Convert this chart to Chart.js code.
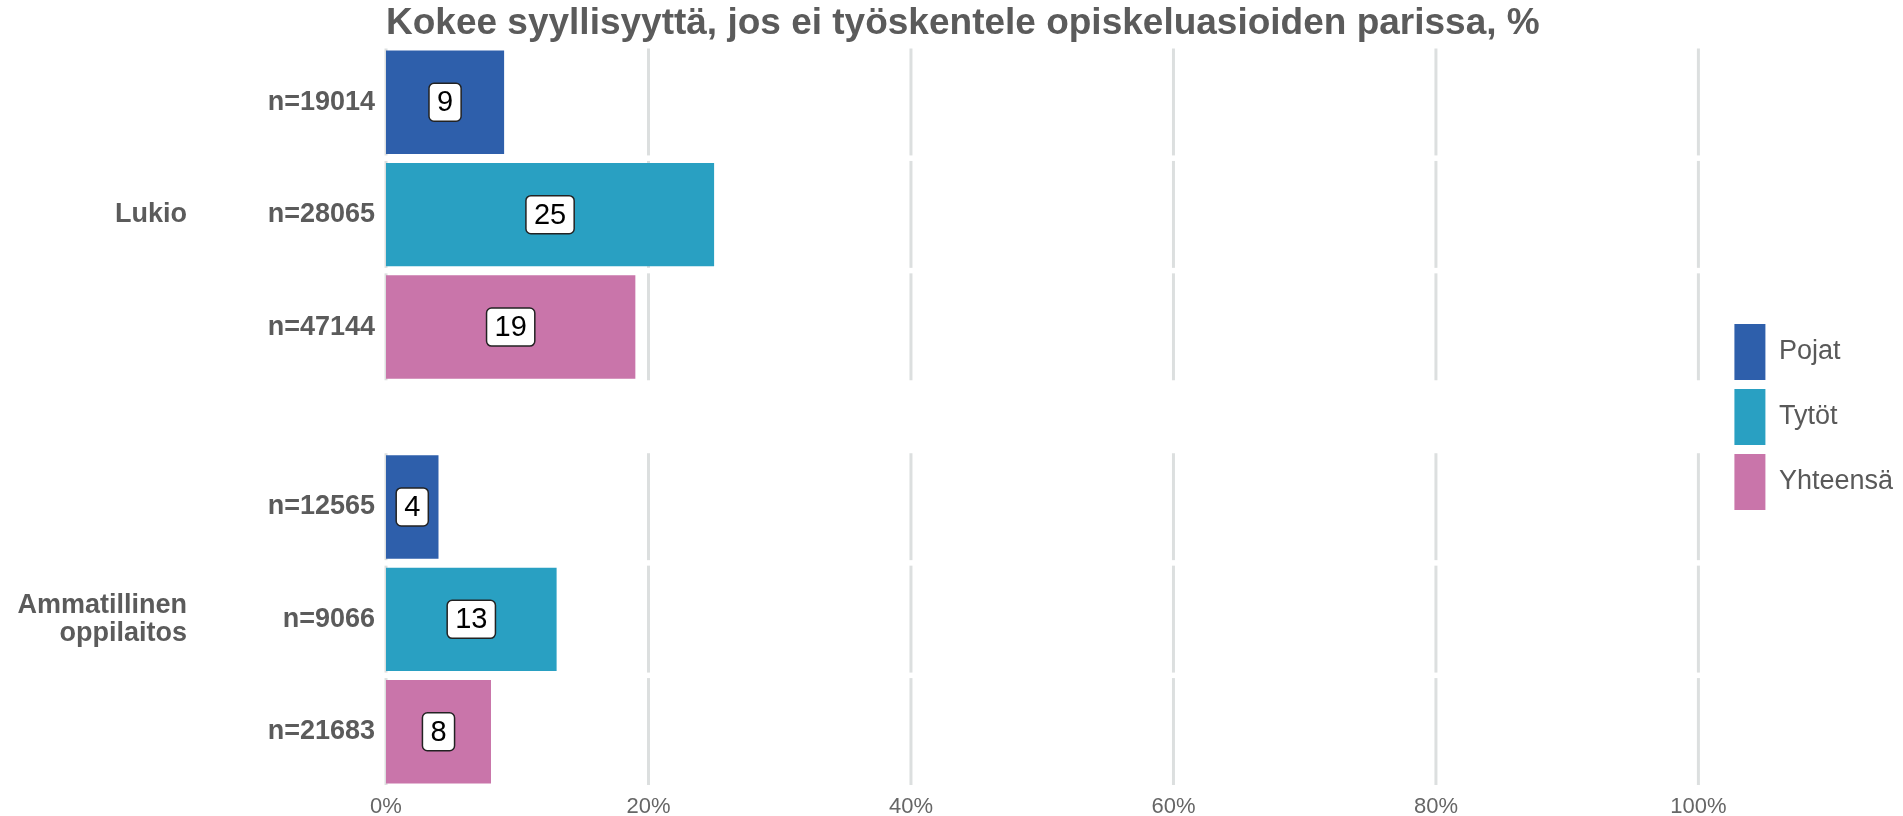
<!DOCTYPE html>
<html>
<head>
<meta charset="utf-8">
<script src="https://cdn.jsdelivr.net/npm/chart.js@4.4.1/dist/chart.umd.min.js"></script>
<style>
  html,body{margin:0;padding:0;background:#fff}
  #wrap{position:relative;width:1903px;height:816px}
</style>
</head>
<body>
<div id="wrap"><canvas id="chart"></canvas></div>
<script>
// data
const TITLE = 'Kokee syyllisyyttä, jos ei työskentele opiskeluasioiden parissa, %';
const groups = ['Lukio', ['Ammatillinen', 'oppilaitos']];
const seriesNames = ['Pojat', 'Tytöt', 'Yhteensä'];
const pojat = [9, 4];
const tytot = [25, 13];
const yhteensa = [19, 8];
const nPojat = [19014, 12565];
const nTytot = [28065, 9066];
const nYhteensa = [47144, 21683];
const xTickStep = 20;

const colors = ['#2e5fab', '#29a0c2', '#c975aa'];
const FONT = '"Liberation Sans", Arial, sans-serif';
const GREY = '#5b5b5b';
const GROUP_GAP = 0.6; // extra space between the two facet groups, in rows

const seriesValues = [pojat, tytot, yhteensa];
const seriesN = [nPojat, nTytot, nYhteensa];

function rowPos(g, s){ return g * (seriesNames.length + GROUP_GAP) + s; }

// row positions and n= labels, top to bottom
const rowPositions = [];
const nLabels = [];
groups.forEach((g, gi) => {
  seriesNames.forEach((s, si) => {
    rowPositions.push(rowPos(gi, si));
    nLabels.push('n=' + seriesN[si][gi]);
  });
});
const groupCenters = groups.map((g, gi) => rowPos(gi, (seriesNames.length - 1) / 2));
const yMin = -0.5;
const yMax = rowPositions[rowPositions.length - 1] + 0.5;

const datasets = seriesNames.map((name, si) => ({
  label: name,
  data: seriesValues[si].map((v, gi) => ({x: v, y: rowPos(gi, si)})),
  backgroundColor: colors[si],
  borderWidth: 0,
  grouped: false,
  categoryPercentage: 1,
  barPercentage: 0.92,
  xAxisID: 'x',
  yAxisID: 'y'
}));

// fixed width for a left axis, and no extra room above/below for its labels
function fixLeftAxis(width){
  return s => {
    s.width = width;
    s.paddingTop = 0;
    s.paddingBottom = 0;
  };
}

// title left-aligned with the plot area
const leftTitle = {
  id: 'leftTitle',
  afterDraw(chart){
    const ctx = chart.ctx;
    ctx.save();
    ctx.font = 'bold 37px ' + FONT;
    ctx.fillStyle = GREY;
    ctx.textAlign = 'left';
    ctx.textBaseline = 'alphabetic';
    ctx.fillText(TITLE, chart.chartArea.left, 34);
    ctx.restore();
  }
};

// grid lines only across each bar's own row (facet panels)
const rowGrid = {
  id: 'rowGrid',
  beforeDatasetsDraw(chart){
    const ctx = chart.ctx;
    const xs = chart.scales.x;
    ctx.save();
    ctx.strokeStyle = '#dcdfdf';
    ctx.lineWidth = 3;
    chart.data.datasets.forEach((ds, di) => {
      chart.getDatasetMeta(di).data.forEach(bar => {
        const {y, height} = bar.getProps(['y', 'height'], true);
        xs.ticks.forEach(t => {
          const px = xs.getPixelForValue(t.value);
          ctx.beginPath();
          ctx.moveTo(px, y - height / 2 - 2);
          ctx.lineTo(px, y + height / 2 + 1.5);
          ctx.stroke();
        });
      });
    });
    ctx.restore();
  }
};

// white boxed value labels in the middle of each bar
const barLabels = {
  id: 'barLabels',
  afterDatasetsDraw(chart){
    const ctx = chart.ctx;
    ctx.save();
    ctx.font = '29px ' + FONT;
    ctx.textAlign = 'center';
    ctx.textBaseline = 'middle';
    chart.data.datasets.forEach((ds, di) => {
      chart.getDatasetMeta(di).data.forEach((bar, i) => {
        const {x, y, base} = bar.getProps(['x', 'y', 'base'], true);
        const txt = String(ds.data[i].x);
        const cx = (x + base) / 2;
        const w = ctx.measureText(txt).width + 16;
        const h = 38;
        ctx.beginPath();
        ctx.roundRect(cx - w / 2, y - h / 2, w, h, 5);
        ctx.fillStyle = '#fff';
        ctx.fill();
        ctx.lineWidth = 1.5;
        ctx.strokeStyle = '#222';
        ctx.stroke();
        ctx.fillStyle = '#000';
        ctx.fillText(txt, cx, y + 1);
      });
    });
    ctx.restore();
  }
};

// keep the legend at the canvas edge while the plot stops at 100 %,
// and centre it on the plot area
const legendPlace = {
  id: 'legendPlace',
  afterLayout(chart){
    const lg = chart.legend;
    const ca = chart.chartArea;
    const dx = chart.width - lg.right;
    const dy = (ca.top + ca.bottom) / 2 - (lg.top + lg.bottom) / 2;
    lg.left += dx;
    lg.right += dx;
    lg.top += dy;
    lg.bottom += dy;
  }
};

new Chart(document.getElementById('chart'), {
  type: 'bar',
  data: {datasets},
  plugins: [rowGrid, barLabels, leftTitle, legendPlace],
  options: {
    indexAxis: 'y',
    responsive: true,
    maintainAspectRatio: false,
    animation: false,
    layout: {padding: {top: 46, right: 27, bottom: 0, left: 0}},
    scales: {
      x: {
        type: 'linear',
        position: 'bottom',
        min: 0,
        max: 100,
        grid: {display: false, drawTicks: false},
        border: {display: false},
        afterFit: s => { s.height = 28; },
        ticks: {
          stepSize: xTickStep,
          callback: v => v + '%',
          color: '#666',
          padding: 8,
          font: {family: FONT, size: 22, lineHeight: 1}
        }
      },
      y: {
        type: 'linear',
        position: 'left',
        reverse: true,
        offset: false,
        min: yMin,
        max: yMax,
        grid: {display: false, drawTicks: false, offset: false},
        border: {display: false},
        afterBuildTicks: s => { s.ticks = rowPositions.map(v => ({value: v})); },
        afterFit: fixLeftAxis(186),
        ticks: {
          autoSkip: false,
          callback: (v, i) => nLabels[i],
          color: GREY,
          padding: 11,
          font: {family: FONT, size: 27, weight: 'bold'}
        }
      },
      yGroup: {
        type: 'linear',
        position: 'left',
        weight: 1,
        reverse: true,
        offset: false,
        min: yMin,
        max: yMax,
        grid: {display: false, drawTicks: false, offset: false},
        border: {display: false},
        afterBuildTicks: s => { s.ticks = groupCenters.map(v => ({value: v})); },
        afterFit: fixLeftAxis(200),
        ticks: {
          autoSkip: false,
          callback: (v, i) => groups[i],
          color: GREY,
          padding: 13,
          font: {family: FONT, size: 27, weight: 'bold', lineHeight: 1.05}
        }
      }
    },
    plugins: {
      title: {display: false},
      tooltip: {enabled: false},
      legend: {
        position: 'right',
        labels: {
          boxWidth: 31,
          boxHeight: 56,
          padding: 9,
          color: '#595959',
          font: {family: FONT, size: 27}
        }
      }
    }
  }
});
</script>
</body>
</html>
